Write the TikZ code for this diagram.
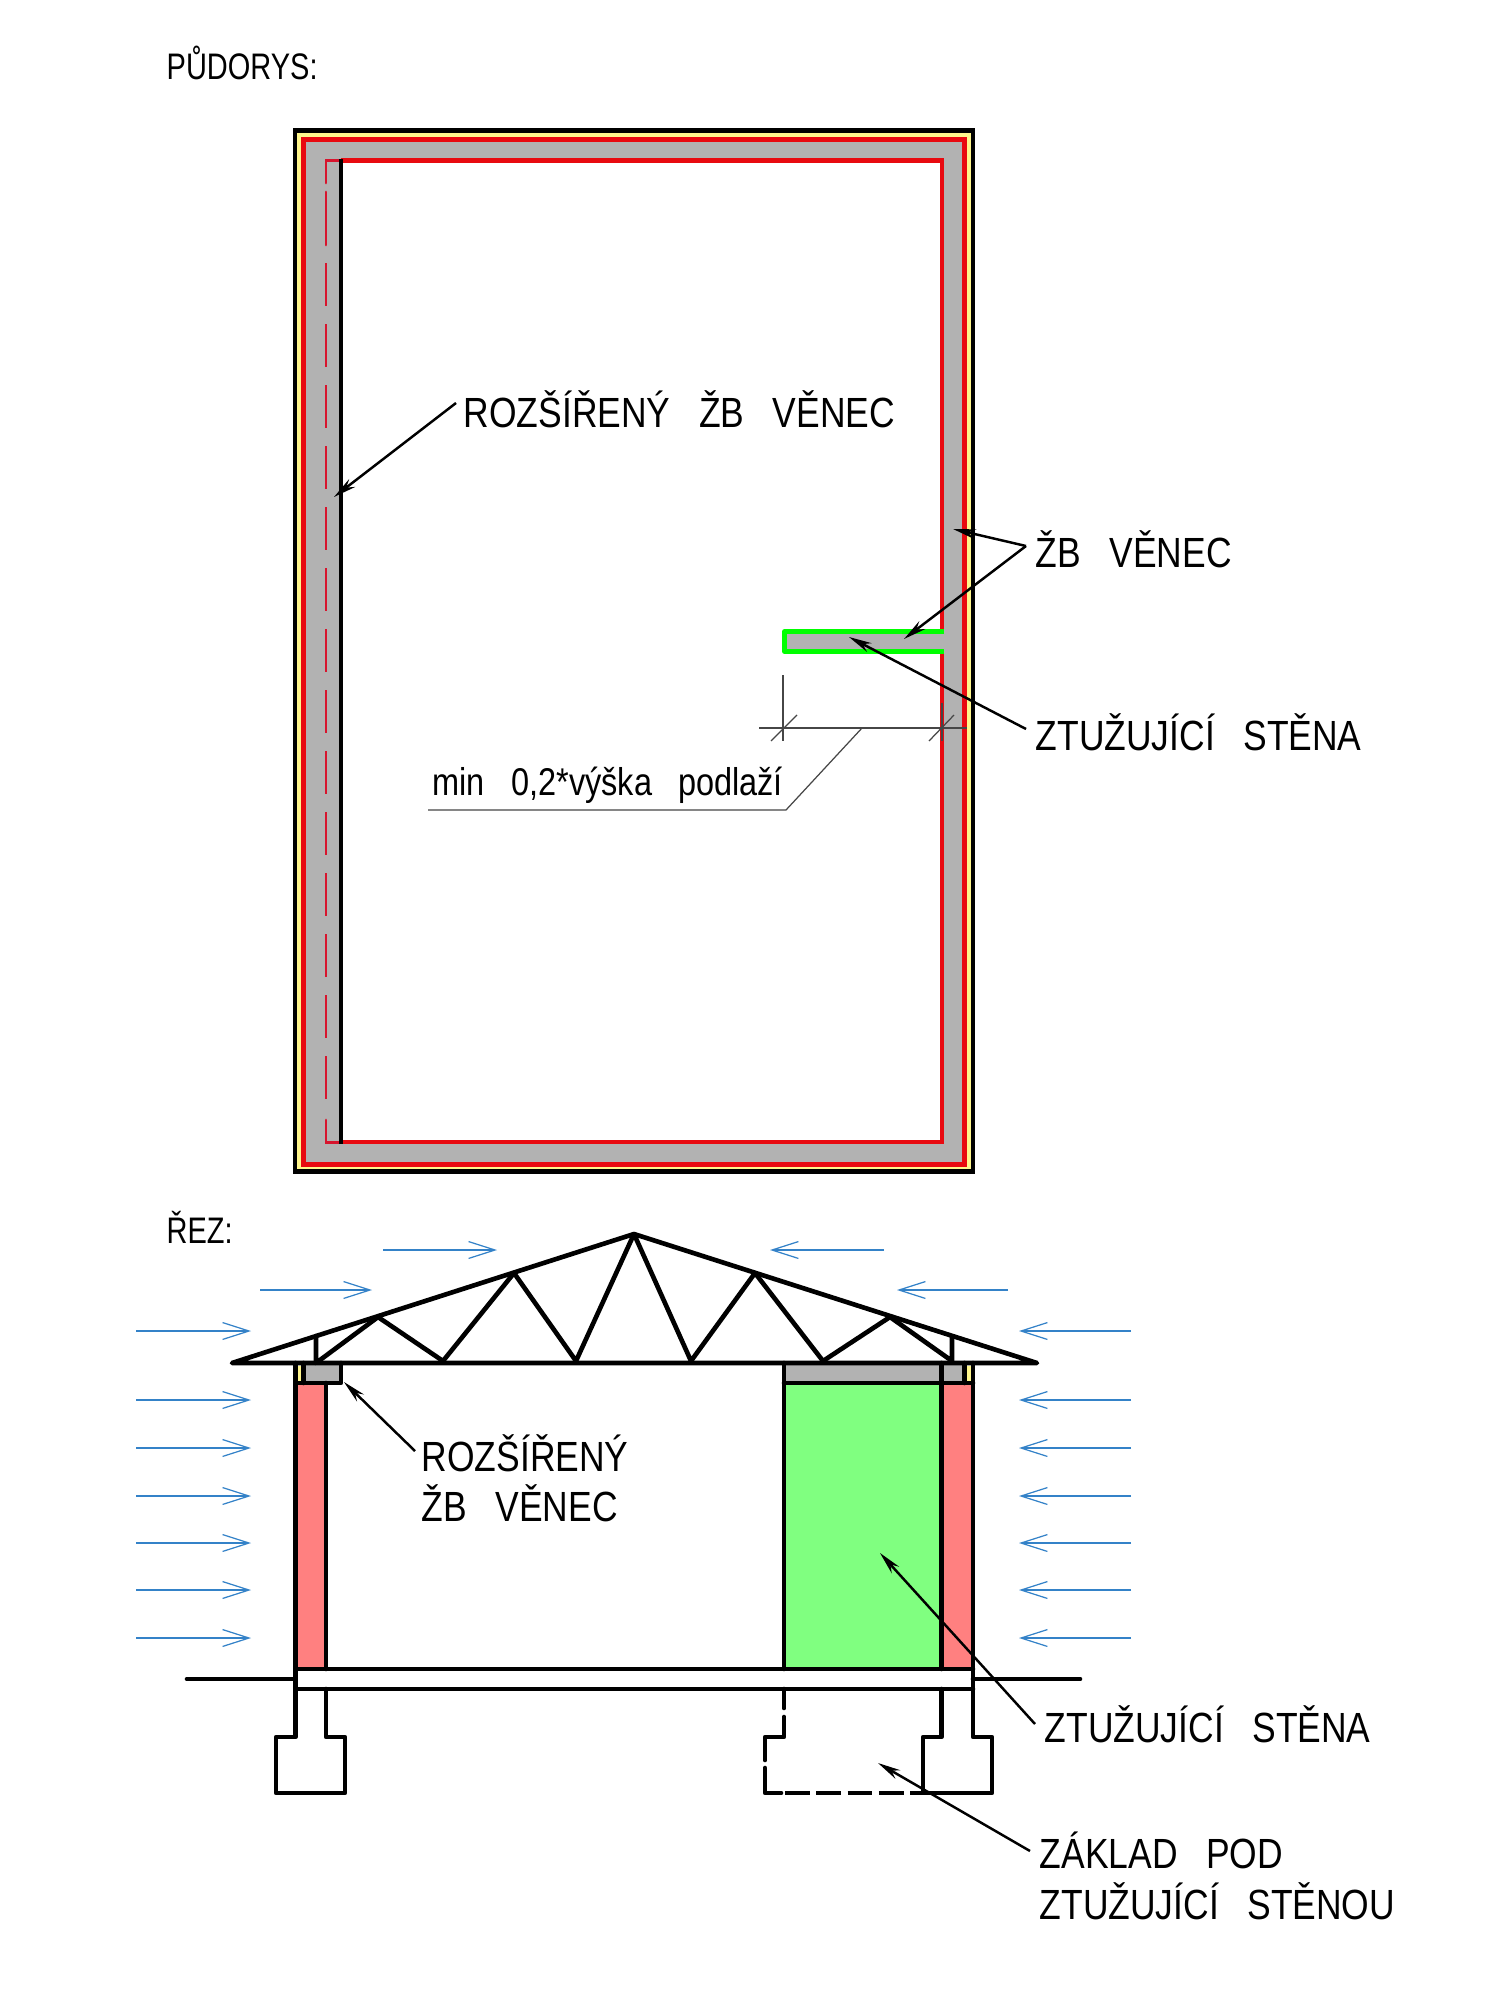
\documentclass[tikz,border=0pt]{standalone}
\usepackage{fontspec}
\setmainfont[WordSpace=2.9]{Liberation Sans}
\usepackage{xcolor}
\usetikzlibrary{arrows.meta}

\definecolor{wallgray}{RGB}{178,178,178}
\definecolor{wallred}{RGB}{232,10,16}
\definecolor{dashred}{RGB}{215,20,45}
\definecolor{paleyellow}{RGB}{255,246,140}
\definecolor{stiffgreen}{RGB}{128,255,128}
\definecolor{brickpink}{RGB}{255,128,128}
\definecolor{windblue}{RGB}{52,130,200}
\definecolor{dimgray}{RGB}{70,70,70}

\newcommand{\narrowlbl}[1]{\scalebox{0.84}[1]{#1}}
\newcommand{\narrowtitle}[1]{\scalebox{0.785}[1]{#1}}

\tikzset{
  heavy/.style={black,line width=1.32pt,line cap=round,line join=round},
  redline/.style={wallred,line width=1.28pt},
  redthin/.style={dashred,line width=0.85pt,line cap=round},
  pointer/.style={black,line width=0.7pt,-{Stealth[length=6.5pt,width=2.8pt]}},
  thinline/.style={dimgray,line width=0.35pt},
  wind/.style={windblue,line width=0.35pt,-{Straight Barb[length=7.5pt,width=4.8pt]}},
  lbl/.style={anchor=base west,inner sep=0pt,font=\fontsize{12pt}{13pt}\selectfont},
  lblsmall/.style={anchor=base west,inner sep=0pt,font=\fontsize{11pt}{12pt}\selectfont},
  lbltitle/.style={anchor=base west,inner sep=0pt,font=\fontsize{10.5pt}{12pt}\selectfont},
}

\begin{document}
\begin{tikzpicture}[x=0.01cm,y=-0.01cm]
\useasboundingbox (0,0) rectangle (1500,2000);

% pudorys
\fill[paleyellow] (295,130) rectangle (973,1172);
\fill[wallgray] (303,139) rectangle (965,1165);
\fill[white] (341,160) rectangle (942,1142);
\fill[wallgray] (784,631) rectangle (944,652);
\draw[redline] (303.5,139.5) rectangle (964.5,1164.5);
\draw[redline] (341,160.5) -- (942,160.5) -- (942,631);
\draw[redline] (942,652) -- (942,1142) -- (341,1142);
\draw[redthin] (341,160.5) -- (326,160.5) -- (326,183);
\draw[redthin] (326,192) -- (326,245);
\draw[redthin,line cap=butt,dash pattern=on 12.2pt off 5.15pt] (326,263) -- (326,1101);
\draw[redthin] (326,1120) -- (326,1142) -- (341,1142);
\draw[black,line width=1.25pt] (341,159) -- (341,1144);
\draw[black,line width=1.3pt] (295,130.5) rectangle (973,1171.5);
\draw[green,line width=1.25pt,line join=round] (944,631.5) -- (784.5,631.5) -- (784.5,651.5) -- (944,651.5);

\node[lbltitle] (planTitle) at (166,80) {\narrowtitle{PŮDORYS:}};
\node[lbl] (labWide) at (463,427) {\narrowlbl{ROZŠÍŘENÝ ŽB VĚNEC}};
\node[lbl] (labRing) at (1035,567) {\narrowlbl{ŽB VĚNEC}};
\node[lbl] (labStiff) at (1035,750) {\narrowlbl{ZTUŽUJÍCÍ STĚNA}};
\node[lblsmall] (labMin) at (432,795) {\narrowlbl{min 0,2*výška podlaží}};

\coordinate (wideStart) at (456,403);
\coordinate (wideTip) at (334,497);
\coordinate (ringStart) at (1026,546);
\coordinate (ringTipA) at (953,529);
\coordinate (ringTipB) at (904,639);
\coordinate (stiffStart) at (1026,729);
\coordinate (stiffTip) at (849,637);
\draw[pointer] (wideStart) -- (wideTip);
\draw[pointer] (ringStart) -- (ringTipA);
\draw[pointer] (ringStart) -- (ringTipB);
\draw[pointer] (stiffStart) -- (stiffTip);

% kota
\draw[thinline] (759,728) -- (967,728);
\draw[thinline] (783,675) -- (783,741);
\draw[thinline] (942,703) -- (942,741);
\draw[thinline] (771,741) -- (797,715);
\draw[thinline] (929,741) -- (954,715);
\draw[thinline] (862,728) -- (786,810) -- (428,810);

% rez
\fill[brickpink] (296,1385) rectangle (325,1669);
\fill[stiffgreen] (784,1385) rectangle (941,1669);
\fill[brickpink] (941,1385) rectangle (973,1669);
\fill[wallgray] (306,1365) rectangle (341,1381);
\fill[wallgray] (784,1365) rectangle (962,1381);
\fill[paleyellow] (298,1366) rectangle (301,1381);
\fill[paleyellow] (967,1366) rectangle (971,1381);

\draw[heavy] (232,1363) -- (634,1234) -- (1037,1363) -- cycle;
\draw[heavy] (316,1336) -- (316,1363) -- (378,1317) -- (443,1361) -- (514,1273) -- (576,1361) -- (634,1234) -- (691,1361) -- (755,1273) -- (823,1361) -- (890,1317) -- (952,1361) -- (952,1337);

% steny a zaklady
\draw[heavy] (295.5,1363) -- (295.5,1737) -- (276,1737) -- (276,1793) -- (345,1793) -- (345,1737) -- (326,1737) -- (326,1689);
\draw[heavy] (326,1383) -- (326,1669);
\draw[heavy] (303.5,1363) -- (303.5,1383);
\draw[heavy] (295.5,1383) -- (341,1383) -- (341,1363);
\draw[heavy] (784,1383) -- (973,1383);
\draw[heavy] (784,1363) -- (784,1669);
\draw[heavy] (941.5,1363) -- (941.5,1669);
\draw[heavy] (941.5,1689) -- (941.5,1737) -- (923,1737) -- (923,1793) -- (992,1793) -- (992,1737) -- (973,1737) -- (973,1363);
\draw[heavy] (964.5,1363) -- (964.5,1383);
\draw[heavy] (295.5,1669) -- (973,1669);
\draw[heavy] (295.5,1689) -- (973,1689);
\draw[heavy] (187,1679) -- (295.5,1679);
\draw[heavy] (973,1679) -- (1080,1679);

\draw[heavy] (784,1689) -- (784,1708);
\draw[heavy] (784,1717) -- (784,1737) -- (765,1737) -- (765,1760);
\draw[heavy] (765,1768) -- (765,1793) -- (781,1793);
\draw[heavy,line cap=butt,dash pattern=on 7pt off 1.9pt] (785,1793) -- (923,1793);

\foreach \yy in {1331,1400,1448,1496,1543,1590,1638} {
  \draw[wind] (136,\yy) -- (251,\yy);
  \draw[wind] (1131,\yy) -- (1019,\yy);
}
\draw[wind] (260,1290) -- (372,1290);
\draw[wind] (383,1250) -- (497,1250);
\draw[wind] (1008,1290) -- (897,1290);
\draw[wind] (884,1250) -- (770,1250);

\node[lbltitle] (sectTitle) at (166,1243) {\narrowtitle{ŘEZ:}};
\node[lbl] (labWideA) at (421,1471) {\narrowlbl{ROZŠÍŘENÝ}};
\node[lbl] (labWideB) at (421,1521) {\narrowlbl{ŽB VĚNEC}};
\node[lbl] (labWall) at (1044,1742) {\narrowlbl{ZTUŽUJÍCÍ STĚNA}};
\node[lbl] (labFootA) at (1039,1868) {\narrowlbl{ZÁKLAD POD}};
\node[lbl] (labFootB) at (1039,1919) {\narrowlbl{ZTUŽUJÍCÍ STĚNOU}};

\coordinate (beamStart) at (415,1451);
\coordinate (beamTip) at (344,1382);
\coordinate (wallStart) at (1035,1724);
\coordinate (wallTip) at (880,1553);
\coordinate (footStart) at (1030,1851);
\coordinate (footTip) at (878,1763);
\draw[pointer] (beamStart) -- (beamTip);
\draw[pointer] (wallStart) -- (wallTip);
\draw[pointer] (footStart) -- (footTip);
\end{tikzpicture}
\end{document}
